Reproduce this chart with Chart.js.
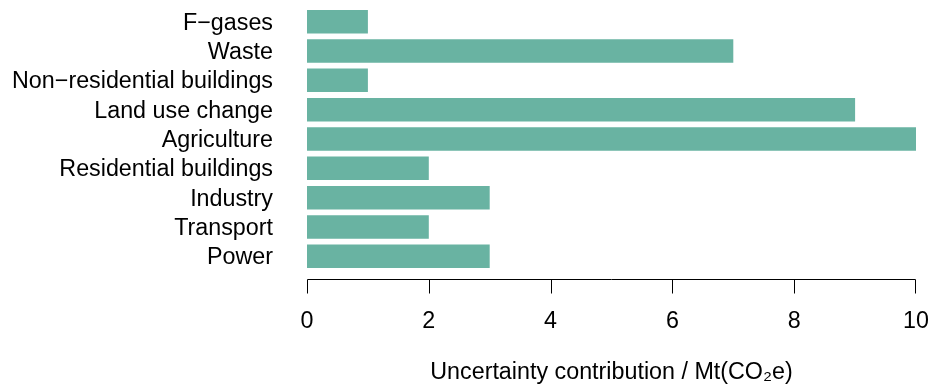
<!DOCTYPE html>
<html>
<head>
<meta charset="utf-8">
<script src="https://cdn.jsdelivr.net/npm/chart.js@4.4.1/dist/chart.umd.min.js"></script>
<style>
  html, body { margin: 0; padding: 0; background: #ffffff; }
  #wrap { width: 930px; height: 385px; position: relative; }
</style>
</head>
<body>
<div id="wrap"><canvas id="chart" width="930" height="385"></canvas></div>
<script>
// Sectors, listed top to bottom
const sectors = [
  'F\u2212gases',
  'Waste',
  'Non\u2212residential buildings',
  'Land use change',
  'Agriculture',
  'Residential buildings',
  'Industry',
  'Transport',
  'Power'
];
// Uncertainty contribution per sector, Mt(CO2e)
const uncertainty = [1, 7, 1, 9, 10, 2, 3, 2, 3];
// Value axis ticks
const xTicks = [0, 2, 4, 6, 8, 10];
const xTitle = 'Uncertainty contribution / Mt(CO\u2082e)';

const FONT = '"Liberation Sans", Arial, Helvetica, sans-serif';
const FONT_SIZE = 23.3;
const BAR_COLOR = '#69b3a2';

// R-style detached value axis: a line spanning first to last tick, with tick marks below
const detachedAxis = {
  id: 'detachedAxis',
  afterDraw(chart) {
    const xs = chart.scales.x;
    const ctx = chart.ctx;
    const y0 = Math.round(chart.chartArea.bottom + 8) + 0.5;
    const tickLen = 14;
    ctx.save();
    ctx.strokeStyle = '#000000';
    ctx.lineWidth = 1;
    ctx.beginPath();
    const xa = Math.round(xs.getPixelForValue(xTicks[0])) + 0.5;
    const xb = Math.round(xs.getPixelForValue(xTicks[xTicks.length - 1])) - 0.5;
    ctx.moveTo(xa, y0);
    ctx.lineTo(xb, y0);
    xTicks.forEach((v, i) => {
      let px = Math.round(xs.getPixelForValue(v)) + 0.5;
      if (i === xTicks.length - 1) px = xb;
      ctx.moveTo(px, y0);
      ctx.lineTo(px, y0 + tickLen);
    });
    ctx.stroke();
    ctx.restore();
  }
};

new Chart(document.getElementById('chart'), {
  type: 'bar',
  data: {
    labels: sectors,
    datasets: [{
      data: uncertainty,
      backgroundColor: BAR_COLOR,
      borderWidth: 0,
      barPercentage: 0.8,
      categoryPercentage: 1.0
    }]
  },
  options: {
    indexAxis: 'y',
    responsive: false,
    animation: false,
    devicePixelRatio: 1,
    layout: { padding: { top: 7, right: 14, bottom: 0, left: 0 } },
    plugins: {
      legend: { display: false },
      tooltip: { enabled: false }
    },
    scales: {
      x: {
        type: 'linear',
        min: 0,
        max: 10,
        afterBuildTicks(scale) {
          scale.ticks = xTicks.map(v => ({ value: v }));
        },
        afterFit(scale) {
          scale.height = 114;
          scale.paddingLeft = 0;
          scale.paddingRight = 0;
        },
        grid: { display: false, drawTicks: false },
        border: { display: false },
        ticks: {
          color: '#000000',
          padding: 37,
          maxRotation: 0,
          font: { family: FONT, size: FONT_SIZE }
        },
        title: {
          display: true,
          text: xTitle,
          color: '#000000',
          font: { family: FONT, size: FONT_SIZE, lineHeight: 1.05 },
          padding: { top: 0, bottom: 0 }
        }
      },
      y: {
        type: 'category',
        offset: true,
        afterFit(scale) {
          scale.width = 307;
          scale.paddingTop = 0;
          scale.paddingBottom = 0;
        },
        grid: { display: false, drawTicks: false },
        border: { display: false },
        ticks: {
          color: '#000000',
          padding: 34,
          labelOffset: 1.5,
          autoSkip: false,
          font: { family: FONT, size: FONT_SIZE }
        }
      }
    }
  },
  plugins: [detachedAxis]
});
</script>
</body>
</html>
